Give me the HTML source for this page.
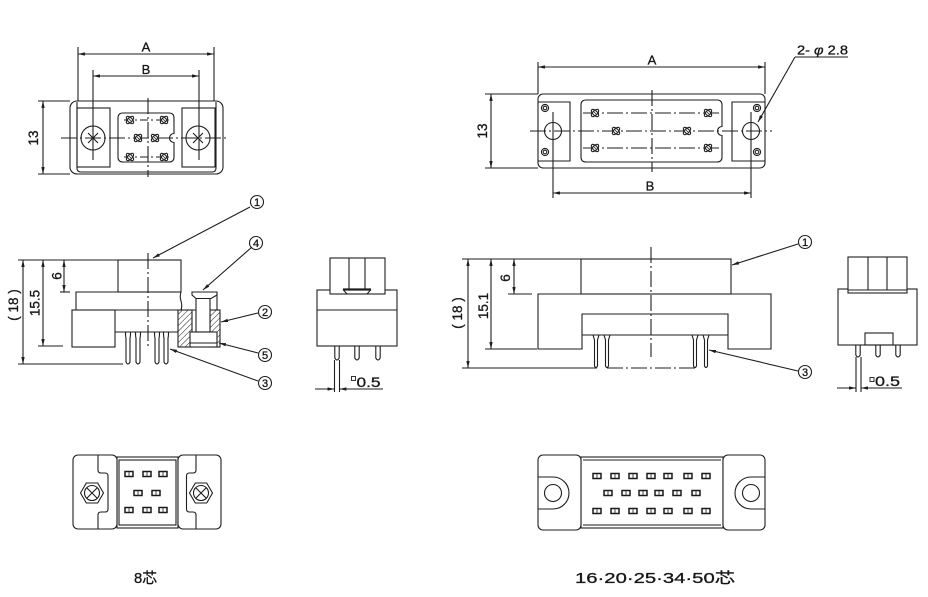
<!DOCTYPE html>
<html><head><meta charset="utf-8">
<style>
html,body{margin:0;padding:0;background:#fff;overflow:hidden}
svg{display:block}
.l{stroke:#1e1e1e;stroke-width:1.1;fill:none}
.w{stroke:#1e1e1e;stroke-width:1.1;fill:#fff}
.dd{stroke-dasharray:16,3,2,3}
.ds{stroke-dasharray:8,3,2,3}
text{font-family:"Liberation Sans","Noto Sans CJK JP",sans-serif;fill:#161616;stroke:#161616;stroke-width:0.3}
</style></head>
<body>
<svg width="928" height="597" viewBox="0 0 928 597" xmlns="http://www.w3.org/2000/svg">
<defs>
<marker id="ar" viewBox="0 0 7 3.4" refX="7" refY="1.7" markerWidth="7" markerHeight="3.4" orient="auto-start-reverse" markerUnits="userSpaceOnUse"><path d="M0,0 L7,1.7 L0,3.4 z" fill="#1e1e1e"/></marker>
<pattern id="hatch" width="4" height="4" patternUnits="userSpaceOnUse" patternTransform="rotate(45)"><line x1="0" y1="0" x2="0" y2="4" stroke="#222" stroke-width="1"/></pattern>
<g id="pn"><ellipse rx="4.6" ry="2.3" transform="rotate(45)" fill="#fff" stroke="#222" stroke-width="1.1"/><ellipse rx="4.6" ry="2.3" transform="rotate(-45)" fill="none" stroke="#222" stroke-width="1.1"/><line x1="-2" y1="-2" x2="2" y2="2" stroke="#222" stroke-width="0.8"/></g>
<g id="hl"><rect x="-4" y="-2.5" width="8" height="5" fill="#fff" stroke="#1a1a1a" stroke-width="1.5"/><line x1="0" y1="-2" x2="0" y2="2" stroke="#444" stroke-width="1"/></g>
</defs>

<!-- ================= TOP LEFT ================= -->
<g class="l">
<line x1="78" y1="47" x2="78" y2="101"/>
<line x1="214" y1="47" x2="214" y2="101"/>
<line x1="78" y1="54" x2="214" y2="54" marker-start="url(#ar)" marker-end="url(#ar)"/>
<line x1="93" y1="70" x2="93" y2="160"/>
<line x1="199" y1="70" x2="199" y2="160"/>
<line x1="93" y1="76" x2="199" y2="76" marker-start="url(#ar)" marker-end="url(#ar)"/>
<line x1="38" y1="101" x2="70" y2="101"/>
<line x1="38" y1="174" x2="70" y2="174"/>
<line x1="43" y1="101" x2="43" y2="174" marker-start="url(#ar)" marker-end="url(#ar)"/>
<rect x="70" y="101" width="153" height="73" rx="7"/>
<path d="M77,102 V168 Q77,172 81,172 H212 Q216,172 216,168 V102"/>
<rect x="77" y="108" width="33" height="59"/>
<rect x="182" y="108" width="33" height="59"/>
<path d="M123,113 H169 Q174,113 174,118 V133.5 A4.5,4.5 0 0 0 174,142.5 V157 Q174,162 169,162 H123 Q118,162 118,157 V118 Q118,113 123,113 Z"/>
<circle cx="93" cy="138" r="12"/>
<path d="M88,133 L98,143 M98,133 L88,143"/>
<circle cx="198" cy="138" r="12"/>
<path d="M193,133 L203,143 M203,133 L193,143"/>
<line x1="61" y1="138" x2="228" y2="138" class="dd"/>
<line x1="148" y1="98" x2="148" y2="177" class="dd"/>
<line x1="124" y1="120" x2="170" y2="120" class="ds"/>
<line x1="124" y1="157" x2="170" y2="157" class="ds"/>
</g>
<use href="#pn" x="130" y="120"/><use href="#pn" x="164" y="120"/>
<use href="#pn" x="138" y="138"/><use href="#pn" x="155" y="138"/>
<use href="#pn" x="130" y="157"/><use href="#pn" x="164" y="157"/>
<text x="146" y="51.5" font-size="13" text-anchor="middle">A</text>
<text x="146" y="74" font-size="13" text-anchor="middle">B</text>
<text transform="translate(38,138) rotate(-90)" font-size="13.5" text-anchor="middle">13</text>

<!-- ================= TOP RIGHT ================= -->
<g class="l">
<line x1="538" y1="62" x2="538" y2="94"/>
<line x1="765" y1="62" x2="765" y2="94"/>
<line x1="538" y1="67" x2="765" y2="67" marker-start="url(#ar)" marker-end="url(#ar)"/>
<line x1="485" y1="94" x2="538" y2="94"/>
<line x1="485" y1="168" x2="538" y2="168"/>
<line x1="491" y1="94" x2="491" y2="168" marker-start="url(#ar)" marker-end="url(#ar)"/>
<rect x="538" y="94" width="227" height="74" rx="5"/>
<path d="M538,102 H570 V161 H538"/>
<path d="M765,102 H732 V161 H765"/>
<path d="M586,100 H717 Q722,100 722,105 V126.5 A4.5,4.5 0 0 0 722,135.5 V157 Q722,162 717,162 H586 Q581,162 581,157 V105 Q581,100 586,100 Z"/>
<circle cx="545" cy="108" r="3.6"/><circle cx="545" cy="108" r="1.8"/>
<circle cx="545" cy="152" r="3.6"/><circle cx="545" cy="152" r="1.8"/>
<circle cx="757" cy="108" r="3.6"/><circle cx="757" cy="108" r="1.8"/>
<circle cx="757" cy="152" r="3.6"/><circle cx="757" cy="152" r="1.8"/>
<circle cx="553" cy="131" r="8.5"/>
<circle cx="751" cy="131" r="8.5"/>
<line x1="553" y1="112" x2="553" y2="198"/>
<line x1="751" y1="112" x2="751" y2="198"/>
<line x1="553" y1="193" x2="751" y2="193" marker-start="url(#ar)" marker-end="url(#ar)"/>
<line x1="652" y1="90" x2="652" y2="172" class="dd"/>
<line x1="530" y1="131" x2="772" y2="131" class="dd"/>
<line x1="583" y1="113" x2="720" y2="113" class="dd"/>
<line x1="583" y1="148" x2="720" y2="148" class="dd"/>
<line x1="795" y1="57" x2="848" y2="57"/>
<line x1="795" y1="57" x2="758" y2="122" marker-end="url(#ar)"/>
</g>
<use href="#pn" x="595" y="113"/><use href="#pn" x="708" y="113"/>
<use href="#pn" x="616" y="131"/><use href="#pn" x="687" y="131"/>
<use href="#pn" x="595" y="148"/><use href="#pn" x="708" y="148"/>
<text x="652" y="64.5" font-size="13" text-anchor="middle">A</text>
<text x="650" y="190.5" font-size="13" text-anchor="middle">B</text>
<text transform="translate(487,131) rotate(-90)" font-size="13.5" text-anchor="middle">13</text>
<text x="797" y="54.5" font-size="13" textLength="51" lengthAdjust="spacingAndGlyphs">2- <tspan font-style="italic">φ</tspan> 2.8</text>

<!-- ================= MIDDLE LEFT ================= -->
<g class="l">
<line x1="18" y1="260" x2="118" y2="260"/>
<rect x="118" y="260" width="63" height="32" class="w"/>
<path d="M76,310 V292 H181"/>
<path d="M181,292 q-1.5,4.5 0,9 q1.5,4.5 0,9"/>
<line x1="72" y1="310" x2="220" y2="310"/>
<rect x="72" y="310" width="43" height="37"/>
<line x1="115" y1="332" x2="178" y2="332"/>
<rect x="178" y="310" width="14" height="37" fill="url(#hatch)"/>
<rect x="210" y="310" width="10" height="37" fill="url(#hatch)"/>
<line x1="217" y1="292" x2="217" y2="310"/>
<rect x="196" y="296" width="14" height="36" class="w"/>
<path d="M192,292 H217 V295 L211,298.5 H196 L192,295 Z" class="w" stroke-width="1.4"/>
<rect x="190" y="332" width="27" height="15" class="w"/>
<line x1="190" y1="343" x2="217" y2="343"/>
<line x1="148" y1="253" x2="148" y2="348" class="dd"/>
<path d="M125.5,332 Q125.5,337 126,338 V362 Q128,366 130,362 V338 Q130.5,337 130.5,332"/>
<path d="M135.5,332 Q135.5,337 136,338 V362 Q138,366 140,362 V338 Q140.5,337 140.5,332"/>
<path d="M154.5,332 Q154.5,337 155,338 V362 Q157,366 159,362 V338 Q159.5,337 159.5,332"/>
<path d="M163.5,332 Q163.5,337 164,338 V362 Q166,366 168,362 V338 Q168.5,337 168.5,332"/>
<line x1="60" y1="292" x2="70" y2="292"/>
<line x1="64" y1="260" x2="64" y2="292" marker-start="url(#ar)" marker-end="url(#ar)"/>
<line x1="38" y1="346" x2="63" y2="346"/>
<line x1="43" y1="260" x2="43" y2="346" marker-start="url(#ar)" marker-end="url(#ar)"/>
<line x1="18" y1="364" x2="123" y2="364"/>
<line x1="23" y1="260" x2="23" y2="364" marker-start="url(#ar)" marker-end="url(#ar)"/>
<line x1="250" y1="207" x2="153" y2="258" marker-end="url(#ar)"/>
<line x1="252" y1="247" x2="203" y2="290" marker-end="url(#ar)"/>
<line x1="258" y1="313" x2="221" y2="322" marker-end="url(#ar)"/>
<line x1="258" y1="353" x2="219" y2="343" marker-end="url(#ar)"/>
<line x1="258" y1="381" x2="170" y2="349" marker-end="url(#ar)"/>
<circle cx="257" cy="202" r="6.5"/>
<circle cx="256" cy="243" r="6.5"/>
<circle cx="265" cy="312" r="6.5"/>
<circle cx="265" cy="355" r="6.5"/>
<circle cx="265" cy="383" r="6.5"/>
</g>
<text x="257" y="206" font-size="11" text-anchor="middle">1</text>
<text x="256" y="247" font-size="11" text-anchor="middle">4</text>
<text x="265" y="316" font-size="11" text-anchor="middle">2</text>
<text x="265" y="359" font-size="11" text-anchor="middle">5</text>
<text x="265" y="387" font-size="11" text-anchor="middle">3</text>
<text transform="translate(61.5,276) rotate(-90)" font-size="13.5" text-anchor="middle">6</text>
<text transform="translate(39.5,303) rotate(-90)" font-size="13.5" text-anchor="middle">15.5</text>
<text transform="translate(18,305) rotate(-90)" font-size="13.5" text-anchor="middle">( 18 )</text>

<!-- ================= MIDDLE SMALL ================= -->
<g class="l">
<rect x="317" y="290" width="80" height="56" class="w"/>
<line x1="317" y1="310" x2="397" y2="310"/>
<rect x="330" y="258" width="55" height="36" class="w"/>
<line x1="349" y1="258" x2="349" y2="289"/>
<line x1="365" y1="258" x2="365" y2="289"/>
<line x1="343" y1="289.5" x2="371" y2="289.5" stroke-width="2.2"/>
<path d="M343,289.5 L347,294 M371,289.5 L367,294"/>
<path d="M334.8,346 V358 Q337,362 339.2,358 V346"/>
<path d="M354.8,346 V358 Q357,362 359.2,358 V346"/>
<path d="M375.8,346 V358 Q378,362 380.2,358 V346"/>
<line x1="334.5" y1="360" x2="334.5" y2="392"/>
<line x1="339.5" y1="360" x2="339.5" y2="392"/>
<line x1="315" y1="389" x2="334.5" y2="389" marker-end="url(#ar)"/>
<line x1="383" y1="389" x2="339.5" y2="389" marker-end="url(#ar)"/>
<rect x="351.5" y="376.5" width="4" height="4" stroke-width="0.9"/>
</g>
<text x="356.5" y="387" font-size="14" textLength="24" lengthAdjust="spacingAndGlyphs">0.5</text>

<!-- ================= MIDDLE RIGHT ================= -->
<g class="l">
<line x1="462" y1="259" x2="610" y2="259"/>
<path d="M538,294 H771 V349 H728 V314 H582 V349 H538 Z" class="w"/>
<rect x="581" y="259" width="150" height="35" class="w"/>
<line x1="582" y1="335" x2="728" y2="335"/>
<path d="M593,335 L594.5,340 V366 Q596,369 597.5,366 V340 L599,335"/>
<path d="M604,335 L605.5,340 V366 Q607,369 608.5,366 V340 L610,335"/>
<path d="M692,335 L693.5,340 V366 Q695,369 696.5,366 V340 L698,335"/>
<path d="M703,335 L704.5,340 V366 Q706,369 707.5,366 V340 L709,335"/>
<line x1="651" y1="247" x2="651" y2="357" class="dd"/>
<line x1="607" y1="368" x2="695" y2="368" class="dd"/>
<line x1="462" y1="368" x2="597" y2="368"/>
<line x1="508" y1="294" x2="532" y2="294"/>
<line x1="514" y1="259" x2="514" y2="294" marker-start="url(#ar)" marker-end="url(#ar)"/>
<line x1="485" y1="349" x2="537" y2="349"/>
<line x1="491" y1="259" x2="491" y2="349" marker-start="url(#ar)" marker-end="url(#ar)"/>
<line x1="468" y1="259" x2="468" y2="368" marker-start="url(#ar)" marker-end="url(#ar)"/>
<line x1="798" y1="244" x2="732" y2="265" marker-end="url(#ar)"/>
<line x1="798" y1="371" x2="709" y2="350" marker-end="url(#ar)"/>
<circle cx="805" cy="242" r="6.5"/>
<circle cx="805" cy="372" r="6.5"/>
</g>
<text x="805" y="246" font-size="11" text-anchor="middle">1</text>
<text x="805" y="376" font-size="11" text-anchor="middle">3</text>
<text transform="translate(510,278) rotate(-90)" font-size="13.5" text-anchor="middle">6</text>
<text transform="translate(488,306) rotate(-90)" font-size="13.5" text-anchor="middle">15.1</text>
<text transform="translate(462,313) rotate(-90)" font-size="13.5" text-anchor="middle">( 18 )</text>

<!-- ================= FAR RIGHT SMALL ================= -->
<g class="l">
<rect x="838" y="289" width="79" height="56" class="w"/>
<rect x="848" y="257" width="59" height="36" class="w"/>
<line x1="868" y1="257" x2="868" y2="290"/>
<line x1="887" y1="257" x2="887" y2="290"/>
<line x1="848" y1="290" x2="907" y2="290"/>
<rect x="865" y="333" width="28" height="12"/>
<path d="M855.8,345 V355 Q858,359 860.2,355 V345"/>
<path d="M875.8,345 V355 Q878,359 880.2,355 V345"/>
<path d="M895.8,345 V355 Q898,359 900.2,355 V345"/>
<line x1="856" y1="357" x2="856" y2="392"/>
<line x1="861" y1="357" x2="861" y2="392"/>
<line x1="837" y1="388" x2="856" y2="388" marker-end="url(#ar)"/>
<line x1="902" y1="388" x2="861" y2="388" marker-end="url(#ar)"/>
<rect x="870" y="377.5" width="4" height="4" stroke-width="0.9"/>
</g>
<text x="875" y="386" font-size="14" textLength="25" lengthAdjust="spacingAndGlyphs">0.5</text>

<!-- ================= BOTTOM LEFT ================= -->
<g class="l">
<rect x="117" y="457" width="61" height="71" class="w"/>
<rect x="119" y="460" width="57" height="65"/>
<rect x="73" y="455" width="44" height="74" rx="5" class="w"/>
<rect x="178" y="455" width="43" height="74" rx="5" class="w"/>
<path d="M98,455 V470 Q98,473 101,473 H105 Q108,473 108,476 V509 Q108,512 105,512 H101 Q98,512 98,515 V529"/>
<path d="M196,455 V470 Q196,473 193,473 H189.5 Q186.5,473 186.5,476 V509 Q186.5,512 189.5,512 H193 Q196,512 196,515 V529"/>
<polygon points="80.5,493 86.3,483 97.7,483 103.5,493 97.7,503 86.3,503"/>
<circle cx="92" cy="493" r="7.5"/>
<path d="M87,488 L97,498 M97,488 L87,498"/>
<polygon points="189.5,493 195.3,483 206.7,483 212.5,493 206.7,503 195.3,503"/>
<circle cx="201" cy="493" r="7.5"/>
<path d="M196,488 L206,498 M206,488 L196,498"/>
</g>
<use href="#hl" x="129" y="474"/><use href="#hl" x="147" y="474"/><use href="#hl" x="163" y="474"/>
<use href="#hl" x="138" y="493"/><use href="#hl" x="156" y="493"/>
<use href="#hl" x="129" y="510"/><use href="#hl" x="147" y="510"/><use href="#hl" x="163" y="510"/>

<!-- ================= BOTTOM RIGHT ================= -->
<g class="l">
<rect x="581" y="457" width="142" height="71" class="w"/>
<line x1="583" y1="460" x2="721" y2="460"/>
<line x1="583" y1="525" x2="721" y2="525"/>
<rect x="538" y="455" width="43" height="75" rx="5" class="w"/>
<rect x="723" y="455" width="42" height="75" rx="5" class="w"/>
<path d="M538,477 H553 A16,16 0 0 1 553,509 H538"/>
<path d="M765,477 H751 A16,16 0 0 0 751,509 H765"/>
<circle cx="553" cy="493" r="8.5"/>
<circle cx="751" cy="493" r="8.5"/>
</g>
<use href="#hl" x="597" y="476"/><use href="#hl" x="615" y="476"/><use href="#hl" x="633" y="476"/><use href="#hl" x="651" y="476"/><use href="#hl" x="668" y="476"/><use href="#hl" x="688" y="476"/><use href="#hl" x="706" y="476"/>
<use href="#hl" x="608" y="493"/><use href="#hl" x="626" y="493"/><use href="#hl" x="643" y="493"/><use href="#hl" x="659" y="493"/><use href="#hl" x="677" y="493"/><use href="#hl" x="696" y="493"/>
<use href="#hl" x="597" y="511"/><use href="#hl" x="615" y="511"/><use href="#hl" x="633" y="511"/><use href="#hl" x="651" y="511"/><use href="#hl" x="668" y="511"/><use href="#hl" x="688" y="511"/><use href="#hl" x="706" y="511"/>

<!-- ================= LABELS ================= -->
<text x="134" y="583" font-size="15" textLength="23" lengthAdjust="spacingAndGlyphs">8芯</text>
<text x="575" y="583" font-size="15" textLength="160" lengthAdjust="spacingAndGlyphs">16·20·25·34·50芯</text>
</svg>
</body></html>
